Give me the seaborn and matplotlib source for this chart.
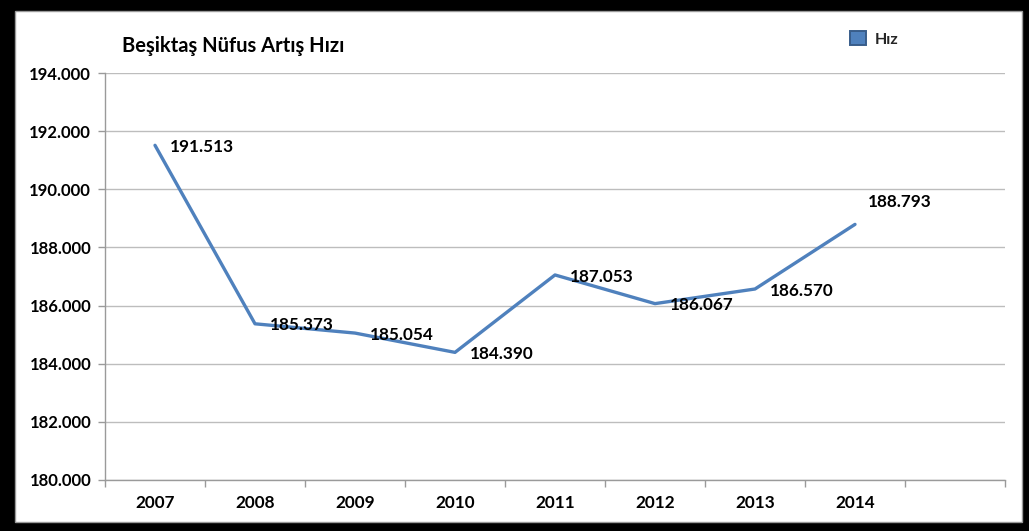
import matplotlib
matplotlib.use("Agg")
import matplotlib.pyplot as plt
from matplotlib.patches import Rectangle, Patch
from matplotlib.ticker import FixedLocator, FuncFormatter
import seaborn as sns
import pandas as pd

# Beşiktaş population (thousands, Turkish decimal style)
years = ["2007", "2008", "2009", "2010", "2011", "2012", "2013", "2014"]
rates = [191.513, 185.373, 185.054, 184.390, 187.053, 186.067, 186.570, 188.793]
title = "Beşiktaş Nüfus Artış Hızı"
series_name = "Hız"

df = pd.DataFrame({"Yıl": years, series_name: rates})

sns.set_theme(style="white")
plt.rcParams["font.family"] = ["Lato", "DejaVu Sans"]
plt.rcParams["font.weight"] = "bold"

W, H = 1029, 531
fig = plt.figure(figsize=(W / 100, H / 100), dpi=100)
fig.patch.set_facecolor("black")

# white chart area inside the thick black frame
fig.patches.append(Rectangle((15 / W, 9 / H), (1022 - 15) / W, (522 - 11) / H,
                             transform=fig.transFigure, facecolor="white",
                             edgecolor="#9a9a9a", linewidth=1, zorder=-10))

ax = fig.add_axes([105 / W, (H - 480) / H, 900 / W, 407 / H])
ax.set_zorder(2)
ax.set_facecolor("white")

line_color = "#4F81BD"
sns.lineplot(data=df, x="Yıl", y=series_name, ax=ax, color=line_color,
             linewidth=2.4, sort=False, legend=False)

ax.set_xlim(-0.5, 8.5)
ax.set_ylim(180, 194)

# y axis: gridlines every 2.000
yt = [180 + 2 * i for i in range(8)]
ax.yaxis.set_major_locator(FixedLocator(yt))
ax.yaxis.set_major_formatter(FuncFormatter(lambda v, p: f"{v:.3f}"))
ax.grid(axis="y", color="#bdbdbd", linewidth=1)
ax.grid(axis="x", visible=False)

# x axis: labels centred on categories, tick marks on category boundaries
ax.set_xticks(range(len(years)))
ax.set_xticklabels(years)
ax.set_xticks([i - 0.5 for i in range(10)], minor=True)
ax.tick_params(axis="x", which="major", length=0, pad=11, labelsize=12.3)
ax.tick_params(axis="x", which="minor", length=5, width=1, color="#9a9a9a",
               direction="out", bottom=True)
ax.tick_params(axis="y", which="major", length=5, width=1, color="#9a9a9a",
               direction="out", left=True, pad=5, labelsize=12)
for lab in ax.get_xticklabels() + ax.get_yticklabels():
    lab.set_fontweight("bold")
    lab.set_color("black")

for side in ["top", "right"]:
    ax.spines[side].set_visible(False)
for side in ["left", "bottom"]:
    ax.spines[side].set_color("#9a9a9a")
    ax.spines[side].set_linewidth(1)
ax.set_xlabel("")
ax.set_ylabel("")

# data labels
for i, v in enumerate(rates):
    if i == len(rates) - 1:
        off = (9.5, 16)
    else:
        off = (10.5, -1.2)
    ax.annotate(f"{v:.3f}", (i, v), xytext=off, textcoords="offset points",
                ha="left", va="center", fontsize=12.3, fontweight="bold", color="black")

fig.text(122 / W, 1 - 46 / H, title, ha="left", va="center", fontsize=14.5,
         fontweight="bold", color="black")

handle = Patch(facecolor=line_color, edgecolor="#385D8A", linewidth=1.4)
fig.legend([handle], [series_name], loc="center left",
           bbox_to_anchor=(850 / W, 1 - 39 / H), frameon=False,
           prop={"weight": "bold", "size": 11.5}, handlelength=1.0, handleheight=1.0,
           handletextpad=0.55, borderaxespad=0, borderpad=0)

fig.savefig("out.png", dpi=100, facecolor=fig.get_facecolor())
